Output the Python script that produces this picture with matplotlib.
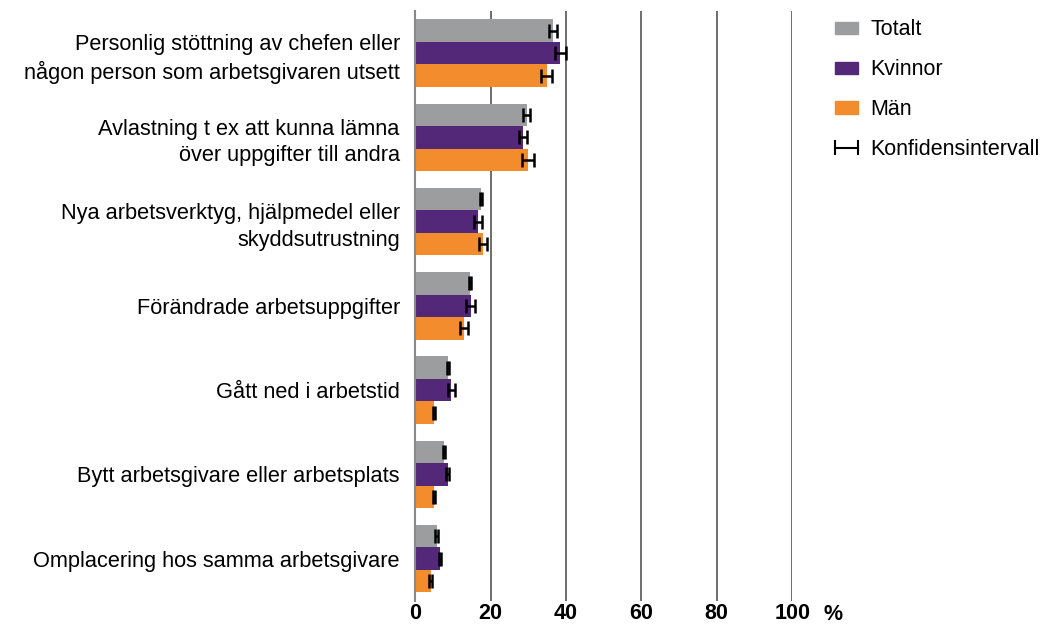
import matplotlib.pyplot as plt
import numpy as np
from matplotlib.patches import Patch
from matplotlib.lines import Line2D
from matplotlib.legend_handler import HandlerBase

plt.rcParams['font.family'] = ['Liberation Sans', 'DejaVu Sans']

categories = ["Personlig stöttning av chefen eller\nnågon person som arbetsgivaren utsett",
              "Avlastning t ex att kunna lämna\növer uppgifter till andra",
              "Nya arbetsverktyg, hjälpmedel eller\nskyddsutrustning",
              "Förändrade arbetsuppgifter",
              "Gått ned i arbetstid",
              "Bytt arbetsgivare eller arbetsplats",
              "Omplacering hos samma arbetsgivare"]

totalt = [36.5, 29.6, 17.5, 14.6, 8.7, 7.6, 5.7]
kvinnor = [38.5, 28.7, 16.6, 14.7, 9.6, 8.6, 6.6]
man = [34.9, 29.9, 18.0, 12.9, 5.0, 5.1, 4.1]

totalt_ci = [1.0, 1.0, 0.3, 0.3, 0.3, 0.3, 0.3]
kvinnor_ci = [1.5, 1.1, 1.1, 1.1, 1.0, 0.3, 0.3]
man_ci = [1.4, 1.5, 1.1, 1.1, 0.3, 0.3, 0.3]

series = ["Totalt", "Kvinnor", "Män"]
colors = ["#9b9d9f", "#532878", "#f28c2c"]
xticks = [0, 20, 40, 60, 80, 100]


class CIHandler(HandlerBase):
    def create_artists(self, legend, orig_handle, xdescent, ydescent,
                       width, height, fontsize, trans):
        y = height / 2 - ydescent
        x0 = -xdescent
        x1 = x0 + width
        h = height * 0.55
        lines = [Line2D([x0, x1], [y, y]),
                 Line2D([x0, x0], [y - h, y + h]),
                 Line2D([x1, x1], [y - h, y + h])]
        for l in lines:
            l.set_color('black')
            l.set_linewidth(1.5)
            l.set_transform(trans)
        return lines


fig = plt.figure(figsize=(10.59, 6.27), dpi=100)
ax = fig.add_axes([0.392, 0.042, 0.356, 0.9405])

y = np.arange(len(categories))
h = 0.267
vals = [totalt, kvinnor, man]
cis = [totalt_ci, kvinnor_ci, man_ci]
for i in range(3):
    ax.barh(y + (i - 1) * h, vals[i], height=h, color=colors[i], zorder=3)
    ax.errorbar(vals[i], y + (i - 1) * h, xerr=cis[i], fmt='none', ecolor='black',
                elinewidth=1.8, capsize=4.8, capthick=1.8, zorder=4)

ax.set_xlim(0, 100)
ax.set_ylim(len(categories) - 0.5, -0.5)
ax.set_xticks(xticks)
ax.set_xticklabels([str(t) for t in xticks], fontsize=15.5, fontweight='bold')
ax.tick_params(axis='x', length=0, pad=2)
ax.set_yticks(y)
ax.set_yticklabels(categories, fontsize=15.7, linespacing=1.35)
ax.tick_params(axis='y', length=0, pad=11)
for t in ax.get_yticklabels():
    t.set_horizontalalignment('right')
    t.set_multialignment('right')

for s in ['top', 'right', 'bottom']:
    ax.spines[s].set_visible(False)
ax.spines['left'].set_color('#888888')
ax.spines['left'].set_linewidth(1.5)
ax.spines['left'].set_zorder(5)
for t in xticks[1:]:
    ax.axvline(t, color='#555555', linewidth=1.2, zorder=1)

fig.text(0.778, 0.011, "%", fontsize=15.5, fontweight='bold')

handles = [Patch(color=c) for c in colors] + [Line2D([], [])]
labels = series + ["Konfidensintervall"]
fig.legend(handles, labels, loc='upper left', bbox_to_anchor=(0.77, 1.0),
           frameon=False, fontsize=15.5, handlelength=1.1, handleheight=0.5,
           handletextpad=0.55, labelspacing=0.88,
           handler_map={Line2D: CIHandler()})

fig.savefig("out.png", dpi=100)
